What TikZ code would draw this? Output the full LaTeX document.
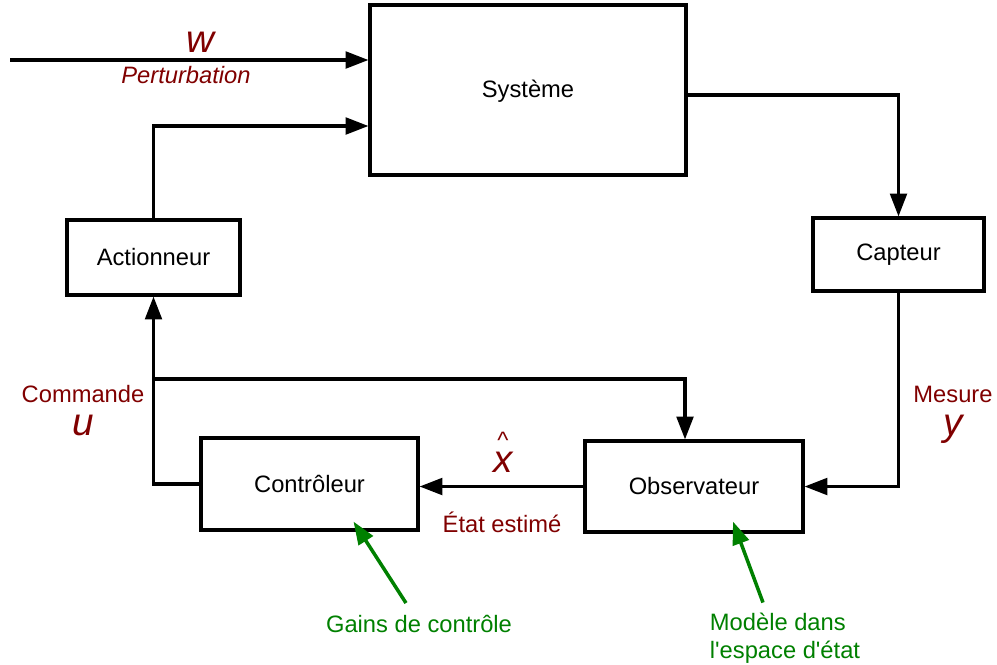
\documentclass[tikz,border=0pt]{standalone}
\usepackage{fontspec}
\setmainfont{Liberation Sans}
\usetikzlibrary{arrows.meta}
\definecolor{darkred}{RGB}{128,0,0}
\definecolor{darkgreen}{RGB}{0,128,0}

\begin{document}
\begin{tikzpicture}[x=0.02cm,y=-0.02cm,
  font=\fontsize{13.5}{16}\selectfont,
  block/.style={rectangle,draw,line width=1.8pt,inner sep=0pt},
  link/.style={line width=1.8pt,-{Triangle[length=13pt,width=9.5pt]}},
  note/.style={text=darkred},
  hint/.style={text=darkgreen},
  pointer/.style={draw=darkgreen,line width=2pt,-{Triangle[length=13pt,width=9.5pt]}},
  sym/.style={text=darkred,font=\fontsize{22}{24}\selectfont\itshape}]
\useasboundingbox (0,0) rectangle (997,664);
% blocs
\node [block,minimum width=6.32cm,minimum height=3.4cm] (sys) at (528,90) {};
\node (systxt) at (528,91) {Système};
\node [block,minimum width=3.46cm,minimum height=1.5cm] (act) at (153.5,257.5) {Actionneur};
\node [block,minimum width=3.42cm,minimum height=1.46cm] (cap) at (898.5,254.5) {\raisebox{-2pt}{Capteur}};
\node [block,minimum width=4.34cm,minimum height=1.84cm] (ctrl) at (309.5,484) {Contrôleur};
\node [block,minimum width=4.36cm,minimum height=1.82cm] (obs) at (694,486.5) {Observateur};
% liaisons
\coordinate (src) at (10,60);
\coordinate (tap) at (153.5,379);
\draw [link] (src) -- ([shift={(0,-30)}]sys.west);
\draw [link] (act.north) |- ([shift={(0,36)}]sys.west);
\draw [link] ([shift={(0,5)}]sys.east) -| (cap.north);
\draw [link] (cap.south) |- (obs.east);
\draw [link] (obs.west) -- (obs.west -| ctrl.east);
\draw [link] (ctrl.west) -| (act.south);
\draw [link] (tap) -| ([shift={(-9,0)}]obs.north);
% textes
\node [sym] (w) at (200,42) {w};
\node [note,font=\fontsize{13.5}{16}\selectfont\itshape] (pert) at (186,75) {Perturbation};
\node [note] (cmd) at (83,394) {Commande};
\node [sym] (u) at (83,425) {u};
\node [note] (mes) at (953,394) {Mesure};
\node [sym] (y) at (953,429) {y};
\node [sym,align=center,inner sep=0pt,anchor=south] (xhat) at (503,473)
  {{\upshape\fontsize{13.5}{16}\selectfont\textasciicircum}\\[-10pt]x};
\node [note] (est) at (502,522) {État estimé};
\node [hint] (gains) at (419,624) {Gains de contrôle};
\node [hint,align=left] (model) at (785,638) {Modèle dans\\l\textquotesingle espace d\textquotesingle état};
\draw [pointer] ([shift={(-13,-6)}]gains.north) -- ([shift={(44,-10)}]ctrl.south);
\draw [pointer] ([shift={(-22,-4)}]model.north) -- ([shift={(39,-12)}]obs.south);
\end{tikzpicture}
\end{document}
